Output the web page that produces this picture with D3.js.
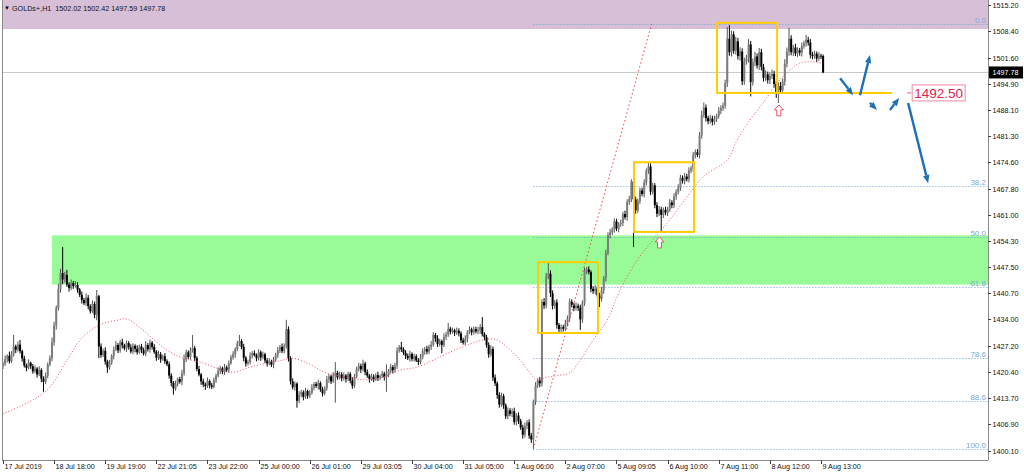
<!DOCTYPE html>
<html><head><meta charset="utf-8">
<script src="https://cdnjs.cloudflare.com/ajax/libs/d3/7.8.5/d3.min.js"></script>
<style>html,body{margin:0;padding:0;background:#fff;overflow:hidden}svg text{font-family:"Liberation Sans",Arial,sans-serif}</style>
</head><body><svg id="c" width="1024" height="474"></svg>
<script>
// ---------- DATA ----------
const symbolTitle = "GOLDs+,H1";
const lastBarOHLC = [1502.02, 1502.42, 1497.59, 1497.78];
const firstOpen = 1422.0;
const closes = [
1422.5,1423.8,1424.6,1423.2,1425.1,1427.0,1426.2,1427.5,1425.8,1423.9,
1422.1,1421.5,1422.8,1421.9,1420.6,1421.3,1419.8,1420.9,1418.7,1417.9,
1419.5,1422.4,1424.0,1428.1,1432.5,1437.0,1441.8,1446.0,1444.3,1445.5,
1443.0,1442.1,1443.4,1442.6,1442.9,1441.7,1440.4,1439.0,1438.2,1439.6,
1437.4,1436.1,1438.0,1435.2,1440.0,1427.0,1424.8,1425.9,1423.1,1421.6,
1422.8,1424.6,1426.2,1427.4,1426.0,1428.1,1427.3,1426.5,1427.9,1426.8,
1425.7,1427.2,1426.4,1425.5,1427.0,1426.1,1425.2,1427.4,1426.3,1428.0,
1426.9,1425.6,1424.1,1425.0,1423.7,1424.5,1423.2,1422.4,1419.5,1417.6,
1416.2,1417.4,1418.6,1417.9,1420.1,1423.8,1425.5,1424.3,1426.0,1426.6,
1424.0,1421.2,1419.8,1418.0,1417.2,1416.8,1418.1,1417.0,1416.6,1418.3,
1419.5,1420.8,1421.4,1420.5,1421.6,1420.9,1422.7,1424.2,1425.0,1426.3,
1427.8,1428.4,1426.9,1424.1,1422.6,1423.0,1424.6,1425.3,1424.8,1424.0,
1425.5,1424.2,1425.0,1423.4,1422.6,1423.1,1422.3,1423.6,1424.8,1426.1,
1426.9,1425.8,1427.2,1431.5,1424.0,1418.0,1416.5,1417.4,1413.0,1414.6,
1415.2,1414.0,1415.5,1414.3,1415.0,1416.4,1417.3,1416.8,1417.6,1415.9,
1414.9,1416.2,1418.5,1419.3,1418.0,1419.6,1420.2,1419.0,1419.8,1418.8,
1419.5,1418.6,1419.9,1418.2,1416.9,1419.2,1421.3,1422.0,1421.1,1422.6,
1420.4,1419.5,1418.6,1419.2,1418.5,1419.6,1418.9,1419.4,1420.0,1419.1,
1419.8,1420.6,1421.7,1420.9,1422.1,1425.9,1426.8,1426.3,1425.4,1424.6,
1424.0,1425.1,1423.8,1424.5,1423.4,1423.0,1424.2,1425.8,1426.4,1425.7,
1426.9,1427.5,1430.0,1429.1,1427.6,1428.4,1427.4,1429.5,1430.1,1431.6,
1430.8,1431.2,1430.6,1431.1,1430.4,1428.6,1428.0,1429.0,1430.6,1431.4,
1430.7,1431.5,1430.9,1431.2,1432.0,1430.2,1429.4,1427.4,1425.0,1426.4,
1419.0,1417.5,1414.5,1412.0,1414.2,1411.8,1409.0,1410.5,1409.6,1410.3,
1407.5,1409.2,1407.8,1406.1,1404.2,1406.5,1407.4,1404.0,1403.0,1412.8,
1417.0,1418.2,1417.5,1438.5,1437.6,1445.2,1445.8,1440.8,1437.5,1438.4,
1432.6,1431.5,1432.0,1431.6,1433.0,1434.3,1438.6,1437.8,1436.9,1437.5,
1437.0,1434.0,1438.2,1446.5,1446.9,1446.2,1441.9,1441.3,1442.0,1440.2,
1439.3,1441.5,1444.6,1451.2,1455.8,1456.5,1457.2,1459.3,1457.4,1458.6,
1458.9,1461.2,1460.4,1464.3,1465.1,1469.6,1465.0,1462.2,1464.6,1467.3,
1466.4,1469.3,1472.4,1473.5,1467.0,1468.6,1463.5,1461.3,1462.4,1461.0,
1462.3,1461.6,1462.4,1464.2,1463.5,1465.8,1466.9,1468.0,1470.6,1469.8,
1470.9,1470.2,1472.5,1473.0,1476.4,1477.2,1476.5,1481.5,1486.8,1488.7,
1486.0,1485.2,1485.9,1485.0,1485.8,1486.5,1487.9,1488.6,1489.2,1495.0,
1506.5,1503.0,1507.6,1503.4,1505.8,1502.0,1503.2,1495.5,1500.6,1501.4,
1505.0,1495.3,1500.4,1501.9,1499.6,1503.0,1499.2,1496.4,1497.3,1495.8,
1496.9,1497.4,1494.8,1492.6,1494.3,1493.2,1495.4,1500.0,1503.2,1506.5,
1503.0,1504.2,1502.7,1503.5,1502.9,1504.6,1505.3,1506.2,1505.5,1502.4,
1502.0,1502.6,1501.4,1502.1,1502.02,1497.78];
const upperWicks = [
0.6,0.9,0.4,1.1,0.7,3.0,0.5,0.8,1.2,0.4, 0.7,0.5,0.9,0.3,0.6,0.8,0.4,1.0,0.5,0.6,
0.8,0.5,0.7,1.2,0.9,0.6,1.4,1.1,6.7,0.8, 1.3,0.6,0.9,0.5,1.0,0.7,0.4,0.8,0.6,1.1,
0.7,0.5,0.9,0.6,1.6,0.4,0.8,0.6,0.9,0.5, 0.7,0.4,0.8,1.0,0.5,0.6,0.9,0.4,0.7,0.5,
0.8,0.6,0.4,0.9,0.5,0.7,0.6,1.0,0.5,0.8, 0.4,0.7,0.5,0.9,0.6,0.4,0.8,0.5,0.7,0.6,
0.5,0.8,0.4,0.6,0.9,1.1,0.7,0.5,0.8,3.4, 0.6,0.5,0.8,0.4,0.7,0.5,0.9,0.4,0.6,0.7,
0.5,0.8,0.6,0.4,0.9,0.5,0.7,0.6,0.8,0.5, 0.7,1.6,0.5,0.8,0.4,0.6,0.9,0.5,0.7,0.4,
0.8,0.5,0.7,0.4,0.6,0.9,0.5,0.7,0.6,0.8, 0.5,0.9,0.6,2.4,0.7,0.5,0.8,0.6,0.4,0.9,
0.6,0.5,0.8,0.4,0.7,0.9,0.5,0.6,0.8,0.4, 0.7,0.5,0.9,0.6,0.4,0.8,2.8,0.5,0.7,0.6,
0.8,0.4,0.6,0.5,0.9,0.7,0.5,0.8,0.6,1.0, 0.5,0.7,0.4,0.8,0.6,0.5,0.9,0.4,0.7,0.5,
2.6,0.6,0.8,0.5,0.7,0.9,0.6,1.4,0.5,0.7, 0.6,0.8,0.4,0.7,0.5,0.6,0.9,0.7,0.5,0.8,
0.6,0.9,0.7,0.5,0.8,0.6,0.4,0.9,0.7,1.5, 0.5,0.7,0.4,0.8,0.6,0.5,0.7,0.9,0.6,0.8,
0.5,0.7,0.6,0.9,0.8,2.6,0.5,0.6,0.7,0.9, 0.6,0.8,0.5,0.7,0.9,0.6,0.5,0.8,0.6,0.7,
0.9,0.6,0.8,0.5,0.7,0.9,0.6,0.8,0.7,0.5, 0.8,0.6,0.9,0.7,1.0,0.8,2.8,0.9,0.7,0.6,
0.8,0.5,0.7,0.6,0.9,0.7,0.8,0.6,0.5,0.9, 0.6,0.8,0.7,0.9,0.6,0.8,0.5,0.7,0.9,0.6,
0.7,0.9,0.6,0.8,0.7,0.9,0.6,0.8,0.7,0.5, 0.8,0.6,0.9,0.7,0.8,0.6,0.9,0.7,0.6,0.8,
0.7,0.9,0.6,0.9,0.8,0.7,0.6,0.8,0.9,0.7, 0.6,0.8,0.7,0.9,0.6,0.8,0.7,0.9,0.8,0.6,
0.9,0.7,0.8,0.6,0.9,0.7,0.8,0.9,1.1,1.3, 0.8,0.6,0.9,0.7,0.8,0.6,0.9,0.7,0.8,0.9,
3.0,3.5,1.0,0.8,1.2,0.9,1.1,0.8,1.0,0.9, 1.4,0.9,1.0,1.2,0.8,1.1,0.9,0.8,1.0,0.7,
0.9,1.1,0.8,0.7,0.9,1.0,0.8,1.2,1.0,2.8, 0.9,0.7,1.0,0.8,0.6,0.9,0.7,1.3,0.8,0.9,
0.7,0.8,0.6,0.9,0.5,0.4];
const lowerWicks = [
0.8,0.5,0.9,0.6,0.4,0.7,0.9,0.5,0.6,0.8, 0.5,0.9,0.4,0.7,0.6,0.5,0.8,0.4,0.9,2.6,
0.6,0.7,0.5,0.8,0.9,1.1,0.7,0.9,1.2,0.8, 0.6,0.9,0.5,0.7,0.4,0.8,0.6,0.9,0.5,0.7,
0.8,0.6,0.4,0.9,1.4,3.0,0.7,0.5,0.8,1.4, 0.6,0.5,0.9,0.4,0.7,0.6,0.8,0.5,0.9,0.6,
0.5,0.7,0.9,0.6,0.4,0.8,0.5,0.7,0.6,0.9, 0.7,0.5,0.8,0.6,0.9,0.4,0.7,0.5,0.8,0.9,
1.6,0.6,0.7,0.5,0.9,0.6,0.8,0.5,0.7,0.6, 0.8,0.6,0.5,0.9,0.7,1.0,0.5,0.8,0.6,0.4,
0.7,0.5,0.9,0.6,0.8,0.5,0.7,0.4,0.6,0.9, 0.5,0.7,0.6,0.9,0.8,0.5,0.6,0.7,0.4,0.8,
0.6,0.9,0.5,0.7,0.8,0.4,0.6,0.9,0.5,0.7, 0.8,0.5,0.6,0.7,0.9,0.8,0.6,0.9,1.8,0.6,
0.7,0.9,0.5,0.8,0.6,0.4,0.7,0.5,0.9,0.6, 0.8,0.5,0.6,0.9,0.7,0.4,7.1,0.6,0.5,0.8,
0.6,0.9,0.5,0.7,0.8,0.6,0.4,0.7,0.9,0.5, 0.8,0.6,0.9,0.5,0.7,0.4,0.8,0.6,0.5,0.9,
3.8,0.7,0.5,0.8,0.6,0.9,0.5,0.7,0.6,0.8, 0.5,0.9,0.6,0.7,0.4,0.8,0.6,0.5,0.9,0.7,
0.6,0.8,0.5,0.9,0.7,0.6,2.1,0.5,0.8,0.6, 0.7,0.5,0.9,0.6,0.8,0.7,0.5,0.6,0.9,0.4,
0.8,0.6,0.5,0.7,0.9,0.6,0.8,0.7,0.9,0.6, 0.9,0.7,1.0,0.8,0.6,0.9,0.7,0.8,0.6,0.9,
0.7,0.9,0.8,0.6,1.0,0.7,0.9,0.8,0.9,2.5, 0.9,0.7,1.0,0.8,0.9,0.7,0.8,1.0,0.9,0.7,
1.0,0.8,0.9,0.7,0.6,0.8,0.9,0.7,0.8,0.6, 0.8,2.7,0.9,0.7,0.8,0.6,0.9,0.7,0.8,0.6,
2.1,0.7,0.9,0.8,0.6,0.9,0.7,0.8,0.6,0.9, 0.7,0.8,0.6,0.9,0.7,0.8,12.3,0.9,0.7,0.8,
0.6,0.9,0.7,0.8,0.9,0.7,0.8,0.9,0.6,4.2, 0.8,0.7,0.9,0.6,0.8,0.7,0.9,0.6,0.8,0.7,
0.9,0.6,0.8,0.7,0.9,0.8,0.6,0.9,0.8,0.7, 0.9,0.8,0.6,0.9,0.7,0.8,0.6,0.9,0.7,0.8,
1.0,0.9,1.1,0.8,1.0,0.9,1.2,1.0,0.9,0.8, 1.1,3.7,0.9,1.0,0.8,1.2,0.9,1.0,0.8,0.9,
1.0,0.8,0.9,1.4,2.7,0.9,0.8,1.0,0.9,1.1, 0.8,1.0,0.7,0.9,0.8,1.0,0.7,0.9,0.8,1.0,
0.8,0.7,0.9,0.6,0.8,0.19];

const timeLabels = ["17 Jul 2019","18 Jul 18:00","19 Jul 19:00","22 Jul 21:05","23 Jul 22:00","25 Jul 00:00","26 Jul 01:00","29 Jul 03:05","30 Jul 04:00","31 Jul 05:00","1 Aug 06:00","2 Aug 07:00","5 Aug 09:05","6 Aug 10:00","7 Aug 11:00","8 Aug 12:00","9 Aug 13:00"];
const timeLabelBars = [0,24,48,72,96,120,144,168,192,216,240,264,288,312,336,360,384];
const priceTicks = [1515.20,1508.40,1501.60,1494.90,1488.10,1481.30,1474.60,1467.80,1461.00,1454.30,1447.50,1440.70,1434.00,1427.20,1420.40,1413.70,1406.90,1400.10];
const currentPrice = 1497.78;

const fibRatios = [0.0, 38.2, 50.0, 61.8, 78.6, 88.6, 100.0];
const fibHigh = 1510.29, fibLow = 1400.54;
const fibStartBar = 249, fibDiagEndBar = 304.5;

const maBars = [0,14,22,30,37.6,45.5,53.5,58,64,70,77,84.5,92.5,100.5,108,116,124,131.5,135.7,143,151,163,171,178.4,186.4,194.4,202,210,218,225.4,231,236.6,242.7,247.4,250.7,255.4,261.5,266,271,277,283.6,289.7,297.7,305,313,321,328.6,340,344.6,350.7,356.8,363.4,369.5,374,380.3,385];
const maValues = [1409.6,1413.2,1416.5,1423.5,1429.5,1432.6,1433.8,1434.1,1432.0,1429.2,1426.1,1424.0,1423.0,1421.4,1420.4,1421.7,1422.7,1423.5,1424.0,1422.7,1420.4,1418.9,1418.4,1419.1,1420.9,1421.7,1423.5,1425.6,1427.4,1428.7,1428.9,1426.9,1423.5,1420.2,1418.4,1419.1,1419.6,1420.2,1423.5,1428.7,1433.8,1441.6,1449.3,1454.5,1459.7,1465.6,1470.8,1475.2,1480.3,1485.5,1489.9,1495.1,1498.4,1500.2,1500.5,1500.2];

const purpleZone = {fromBar: -1.5, top: 1516.5, bottom: 1509.0};
const greenZone = {fromBar: 23, top: 1455.7, bottom: 1443.0};

const boxStartBars = [251.2, 296.2, 335.2];
const boxEndBars   = [279.3, 324.4, 363.4];
const boxTops      = [1448.8, 1474.6, 1510.6];
const boxBottoms   = [1430.5, 1456.6, 1492.5];
const levelLine = {fromBar: 363.4, toBar: 417.4, price: 1492.5, label: "1492.50", labelBar: 426.8};

const upArrowBars = [308.2, 364.2];
const upArrowPrices = [1455.3, 1489.4];

const blueArrowFromBars = [393.0, 402.3, 407.0, 416.4, 424.9];
const blueArrowFromPrices = [1496.3, 1491.9, 1489.9, 1488.1, 1489.9];
const blueArrowToBars = [399.1, 407.0, 410.3, 420.7, 434.3];
const blueArrowToPrices = [1491.9, 1502.3, 1488.1, 1491.2, 1469.2];

// ---------- CHART ----------
const svg = d3.select("#c");
const L = 2, R = 988, T = 0, B = 460;
const x = d3.scaleLinear().domain([0, 462.4]).range([3, 988]);
const y = d3.scaleLinear().domain([1400.1, 1515.2]).range([450.7, 5]);

svg.append("rect").attr("width",1024).attr("height",474).attr("fill","#fff");
svg.append("defs").append("clipPath").attr("id","plot").append("rect")
  .attr("x",L).attr("y",T).attr("width",R-L).attr("height",B-T);
const g = svg.append("g").attr("clip-path","url(#plot)");

// zones
g.append("rect").attr("x",x(purpleZone.fromBar)).attr("y",y(purpleZone.top))
  .attr("width",R-x(purpleZone.fromBar)).attr("height",y(purpleZone.bottom)-y(purpleZone.top)).attr("fill","#d8bfd8");
g.append("rect").attr("x",x(greenZone.fromBar)).attr("y",y(greenZone.top))
  .attr("width",R-x(greenZone.fromBar)).attr("height",y(greenZone.bottom)-y(greenZone.top)).attr("fill","#98fb98");

// current price line
g.append("line").attr("x1",L).attr("x2",R).attr("y1",y(currentPrice)).attr("y2",y(currentPrice))
  .attr("stroke","#c8c8c8").attr("stroke-width",1);

// fib levels
const fibPrice = r => fibHigh - r/100*(fibHigh-fibLow);
fibRatios.forEach(r=>{
  const yy = Math.round(y(fibPrice(r)))+0.5;
  g.append("line").attr("x1",x(fibStartBar)).attr("x2",R).attr("y1",yy).attr("y2",yy)
    .attr("stroke","#6f9fd0").attr("stroke-width",1).attr("stroke-dasharray","1,2");
  g.append("text").attr("x",R-2).attr("y",yy-2).attr("text-anchor","end")
    .attr("font-size","8px").attr("fill","#7ea7d6").text(r.toFixed(1));
});

// candles
const opens = closes.map((c,i)=> i===0 ? firstOpen : closes[i-1]);
const candles = closes.map((c,i)=>({i, o:opens[i], c,
  h: Math.max(opens[i],c)+upperWicks[i], l: Math.min(opens[i],c)-lowerWicks[i]}));
const cg = g.append("g");
cg.selectAll("line.w").data(candles).enter().append("line")
  .attr("x1",d=>x(d.i)).attr("x2",d=>x(d.i)).attr("y1",d=>y(d.h)).attr("y2",d=>y(d.l))
  .attr("stroke",d=>d.c>=d.o?"#555":"#000").attr("stroke-width",1);
cg.selectAll("rect.b").data(candles).enter().append("rect")
  .attr("x",d=>x(d.i)-1).attr("width",2)
  .attr("y",d=>y(Math.max(d.o,d.c))).attr("height",d=>Math.max(0.8,Math.abs(y(d.o)-y(d.c))))
  .attr("fill",d=>d.c>=d.o?"#7c7c7c":"#000");

// moving average
const maPts = maBars.map((b,k)=>[x(b), y(maValues[k])]);
g.append("path").attr("d", d3.line().curve(d3.curveCatmullRom)(maPts))
  .attr("fill","none").attr("stroke","#ee5060").attr("stroke-width",1).attr("stroke-dasharray","1,2");

// fib diagonal
g.append("line").attr("x1",x(fibStartBar)).attr("y1",y(fibLow)).attr("x2",x(fibDiagEndBar)).attr("y2",y(fibHigh))
  .attr("stroke","#ee4040").attr("stroke-width",1).attr("stroke-dasharray","1.5,2.5");

// yellow boxes
boxStartBars.forEach((b,k)=>{
  g.append("rect").attr("x",x(b)).attr("y",y(boxTops[k])).attr("width",x(boxEndBars[k])-x(b))
    .attr("height",y(boxBottoms[k])-y(boxTops[k])).attr("fill","none").attr("stroke","#ffcc00").attr("stroke-width",2);
});
g.append("line").attr("x1",x(levelLine.fromBar)).attr("x2",x(levelLine.toBar))
  .attr("y1",y(levelLine.price)).attr("y2",y(levelLine.price)).attr("stroke","#ffcc00").attr("stroke-width",2);

// red hollow up arrows
upArrowBars.forEach((b,k)=>{
  const cx = x(b), ty = y(upArrowPrices[k]);
  const p = `M${cx},${ty} L${cx+4.5},${ty+5} L${cx+2},${ty+5} L${cx+2},${ty+11} L${cx-2},${ty+11} L${cx-2},${ty+5} L${cx-4.5},${ty+5} Z`;
  g.append("path").attr("d",p).attr("fill","#fff").attr("stroke","#e8506a").attr("stroke-width",1);
});

// blue arrows
blueArrowFromBars.forEach((b,k)=>{
  const x1=x(b), y1=y(blueArrowFromPrices[k]), x2=x(blueArrowToBars[k]), y2=y(blueArrowToPrices[k]);
  const ang=Math.atan2(y2-y1,x2-x1), hl=8, hw=3.2;
  const bx=x2-hl*Math.cos(ang), by=y2-hl*Math.sin(ang);
  g.append("line").attr("x1",x1).attr("y1",y1).attr("x2",bx).attr("y2",by)
    .attr("stroke","#1f6fb5").attr("stroke-width",2.4);
  const px=-Math.sin(ang)*hw, py=Math.cos(ang)*hw;
  g.append("path").attr("d",`M${x2},${y2} L${bx+px},${by+py} L${bx-px},${by-py} Z`).attr("fill","#1f6fb5");
});

// 1492.50 label
{
  const lx = x(levelLine.labelBar), ly = y(levelLine.price);
  g.append("line").attr("x1",lx-5).attr("x2",lx-1).attr("y1",ly).attr("y2",ly).attr("stroke","#e0607a").attr("stroke-width",1);
  g.append("rect").attr("x",lx).attr("y",ly-8).attr("width",53).attr("height",16)
    .attr("fill","#fff").attr("stroke","#f08aa0").attr("stroke-width",1);
  g.append("text").attr("x",lx+26.5).attr("y",ly+5).attr("text-anchor","middle")
    .attr("font-size","13.5px").attr("fill","#e0204a").text(levelLine.label);
}

// header
svg.append("text").attr("x",4).attr("y",10).attr("font-size","6px").attr("fill","#000").text("\u25BC");
svg.append("text").attr("x",12).attr("y",10.5).attr("font-size","7.2px").attr("fill","#111")
  .attr("xml:space","preserve")
  .text(symbolTitle + "  " + lastBarOHLC.map(v=>v.toFixed(2)).join(" "));

// borders
svg.append("line").attr("x1",L+0.5).attr("x2",L+0.5).attr("y1",0).attr("y2",B).attr("stroke","#8a8a8a");
svg.append("line").attr("x1",L).attr("x2",R).attr("y1",B+0.5).attr("y2",B+0.5).attr("stroke","#8a8a8a");
svg.append("line").attr("x1",R+0.5).attr("x2",R+0.5).attr("y1",0).attr("y2",B).attr("stroke","#8a8a8a");

// price axis
priceTicks.forEach(p=>{
  const yy=Math.round(y(p))+0.5;
  svg.append("line").attr("x1",R).attr("x2",R+3).attr("y1",yy).attr("y2",yy).attr("stroke","#444");
  svg.append("text").attr("x",R+4.5).attr("y",yy+2.6).attr("font-size","7.2px").attr("fill","#111").text(p.toFixed(2));
});
{
  const yy=y(currentPrice);
  svg.append("rect").attr("x",R+1).attr("y",yy-6).attr("width",34).attr("height",12).attr("fill","#000");
  svg.append("text").attr("x",R+4.5).attr("y",yy+2.6).attr("font-size","7.2px").attr("fill","#fff").text(currentPrice.toFixed(2));
}

// time axis
timeLabelBars.forEach((b,k)=>{
  const xx=Math.round(x(b))+0.5;
  svg.append("line").attr("x1",xx).attr("x2",xx).attr("y1",B).attr("y2",B+4).attr("stroke","#444");
  svg.append("text").attr("x",xx+1).attr("y",469).attr("font-size","7.2px").attr("fill","#111").text(timeLabels[k]);
});
</script></body></html>
